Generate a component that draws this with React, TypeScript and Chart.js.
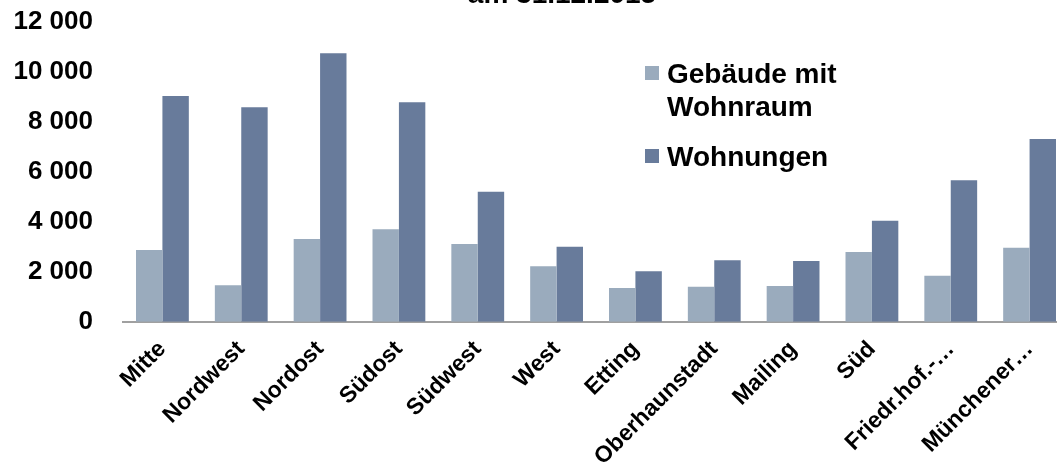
import React, { useEffect, useRef } from "react";
import { Chart, registerables } from "chart.js";

Chart.register(...registerables);

const categories = [
  "Mitte",
  "Nordwest",
  "Nordost",
  "Südost",
  "Südwest",
  "West",
  "Etting",
  "Oberhaunstadt",
  "Mailing",
  "Süd",
  "Friedr.hof.-…",
  "Münchener…",
];
const gebaeudeMitWohnraum = [2870, 1460, 3310, 3700, 3110, 2220, 1350, 1400, 1430, 2790, 1840, 2960];
const wohnungen = [9030, 8580, 10740, 8780, 5200, 3000, 2020, 2460, 2430, 4040, 5660, 7310];
const yTickValues = [0, 2000, 4000, 6000, 8000, 10000, 12000];
const yTickLabels = ["0", "2 000", "4 000", "6 000", "8 000", "10 000", "12 000"];
const seriesNames = [["Gebäude mit", "Wohnraum"], ["Wohnungen"]];
const titleText = "am 31.12.2015";

const LIGHT = "#9AABBD";
const DARK = "#687B9B";
const FONT = "'Liberation Sans', Arial, sans-serif";

const overlayPlugin = {
  id: "overlay",
  afterDraw(chart: any) {
    const ctx = chart.ctx;
    ctx.save();
    // title (cut off at top like the reference)
    ctx.fillStyle = "#000";
    ctx.font = `bold 28px ${FONT}`;
    ctx.textAlign = "center";
    ctx.textBaseline = "alphabetic";
    ctx.fillText(titleText, 562, 3);

    // legend
    const colors = [LIGHT, DARK];
    const boxYs = [66, 149];
    const baselines = [[82.5, 116], [165.5]];
    ctx.textAlign = "left";
    ctx.font = `bold 28px ${FONT}`;
    for (let i = 0; i < 2; i++) {
      ctx.fillStyle = colors[i];
      ctx.fillRect(645, boxYs[i], 14, 14);
      ctx.fillStyle = "#000";
      seriesNames[i].forEach((line, j) => {
        ctx.fillText(line, 667, baselines[i][j]);
      });
    }
    ctx.restore();
  },
};

export default function App() {
  const ref = useRef<HTMLCanvasElement | null>(null);
  useEffect(() => {
    if (!ref.current) return;
    const chart = new Chart(ref.current, {
      type: "bar",
      data: {
        labels: categories,
        datasets: [
          {
            label: seriesNames[0].join(" "),
            data: gebaeudeMitWohnraum,
            backgroundColor: LIGHT,
            borderWidth: 0,
            categoryPercentage: 0.67,
            barPercentage: 1,
          },
          {
            label: seriesNames[1].join(" "),
            data: wohnungen,
            backgroundColor: DARK,
            borderWidth: 0,
            categoryPercentage: 0.67,
            barPercentage: 1,
          },
        ],
      },
      options: {
        responsive: false,
        animation: false,
        layout: { padding: { top: 21.7, right: 1, left: 0, bottom: 0 } },
        plugins: {
          legend: { display: false },
          title: { display: false },
          tooltip: { enabled: false },
        },
        scales: {
          x: {
            grid: { display: false, drawTicks: false },
            border: { display: true, color: "#A0A0A0", width: 2 },
            ticks: {
              color: "#000",
              font: { family: FONT, size: 23, weight: "bold" },
              minRotation: 45,
              maxRotation: 45,
              padding: 14,
              autoSkip: false,
            },
            afterFit: (s: any) => {
              s.height = 465 - 321.7;
              s.paddingLeft = 0;
              s.paddingRight = 0;
            },
          },
          y: {
            min: 0,
            max: 12000,
            grid: { display: false, drawTicks: false },
            border: { display: false },
            afterBuildTicks: (s: any) => {
              s.ticks = yTickValues.map((v) => ({ value: v }));
            },
            ticks: {
              color: "#000",
              font: { family: FONT, size: 26, weight: "bold" },
              padding: 30,
              callback: (v: any) => {
                const i = yTickValues.indexOf(Number(v));
                return i >= 0 ? yTickLabels[i] : "";
              },
            },
            afterFit: (s: any) => {
              s.width = 123;
              s.paddingTop = 0;
              s.paddingBottom = 0;
            },
          },
        },
      },
      plugins: [overlayPlugin],
    });
    return () => chart.destroy();
  }, []);

  return (
    <div
      style={{
        position: "fixed",
        left: 0,
        top: 0,
        width: 1057,
        height: 465,
        overflow: "hidden",
        background: "#fff",
      }}
    >
      <canvas ref={ref} width={1070} height={465} style={{ width: 1070, height: 465, display: "block" }} />
    </div>
  );
}
